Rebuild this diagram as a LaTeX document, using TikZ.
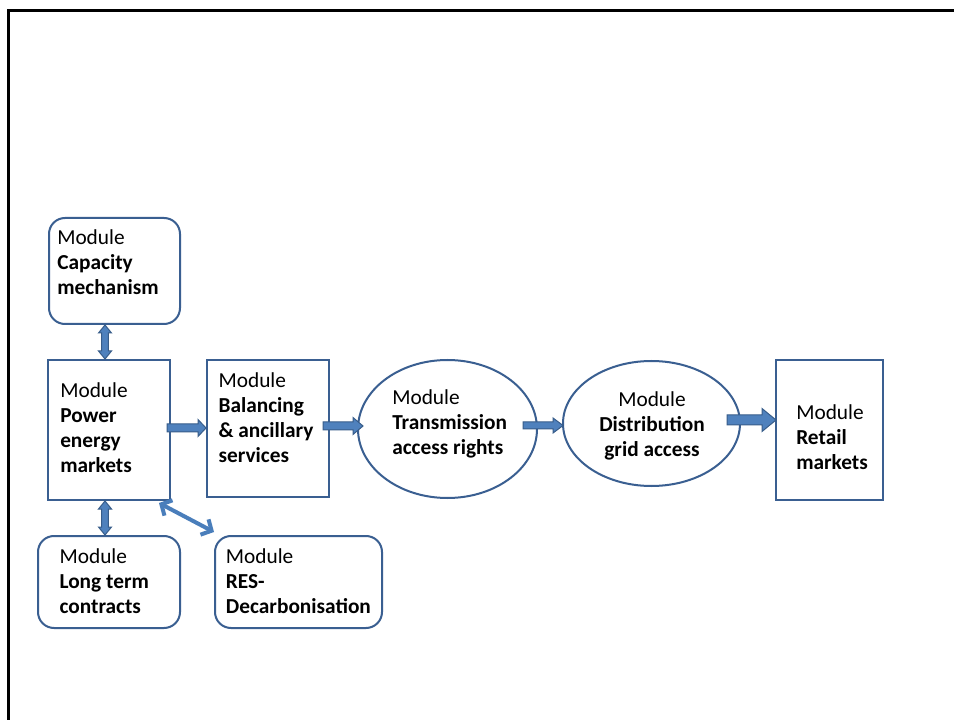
\documentclass[tikz,border=0pt]{standalone}
\usepackage{fontspec}
\setmainfont{Carlito}
\usetikzlibrary{shapes.geometric,arrows.meta,calc}

\definecolor{boxblue}{HTML}{3A5F91}
\definecolor{arrfill}{HTML}{4F81BD}
\definecolor{arrline}{HTML}{385D8A}
\definecolor{linkblue}{HTML}{4A7EBB}

\newcommand\modfont{\fontsize{16pt}{18.75pt}\selectfont}

% horizontal block arrow: from node, to node, y, start shift, end shift,
% half shaft, half head, head length (all in px)
\newcommand\hblock[8]{%
  \path[blockarrow] let \p1=([xshift=#4*0.75pt]#1.east),
                        \p2=([xshift=#5*0.75pt]#2.west),
                        \p3=(0,#3) in
    (\x1,\y3+#6*0.75pt) -- (\x2-#8*0.75pt,\y3+#6*0.75pt)
    -- (\x2-#8*0.75pt,\y3+#7*0.75pt) -- (\x2,\y3)
    -- (\x2-#8*0.75pt,\y3-#7*0.75pt) -- (\x2-#8*0.75pt,\y3-#6*0.75pt)
    -- (\x1,\y3-#6*0.75pt) -- cycle;}

% vertical double block arrow: upper node, lower node, x, half shaft,
% half head, head length (all in px)
\newcommand\vblock[6]{%
  \path[blockarrow] let \p1=(#1.south), \p2=(#2.north), \p3=(#3,0) in
    (\x3,\y1) -- (\x3+#5*0.75pt,\y1-#6*0.75pt) -- (\x3+#4*0.75pt,\y1-#6*0.75pt)
    -- (\x3+#4*0.75pt,\y2+#6*0.75pt) -- (\x3+#5*0.75pt,\y2+#6*0.75pt)
    -- (\x3,\y2) -- (\x3-#5*0.75pt,\y2+#6*0.75pt) -- (\x3-#4*0.75pt,\y2+#6*0.75pt)
    -- (\x3-#4*0.75pt,\y1-#6*0.75pt) -- (\x3-#5*0.75pt,\y1-#6*0.75pt) -- cycle;}

\tikzset{
  modbox/.style={draw=boxblue, line width=1.5pt, fill=white, inner sep=0pt},
  roundbox/.style={modbox, rounded corners=12pt},
  modell/.style={modbox, ellipse},
  txt/.style={inner sep=0pt, font=\modfont, anchor=base west},
  ctxt/.style={inner sep=0pt, font=\modfont, anchor=base},
  blockarrow/.style={fill=arrfill, draw=arrline, line width=0.75pt, line join=miter},
  linkarrow/.style={draw=linkblue, line width=3pt,
    {Straight Barb[length=6pt,width=13pt]}-{Straight Barb[length=6pt,width=13pt]}},
  frameline/.style={draw=black, line width=2pt}
}

\begin{document}
\begin{tikzpicture}[x=0.75pt,y=-0.75pt]
\useasboundingbox (0,0) rectangle (954,720);
\fill[white] (0,0) rectangle (954,720);

% page frame
\draw[frameline] (8.5,740) -- (8.5,10.5) -- (970,10.5);

% module boxes
\node[roundbox, minimum width=98.25pt, minimum height=79.5pt] (cap) at (114.5,271) {};
\node[modbox, minimum width=91.5pt, minimum height=105pt] (pw) at (109,430) {};
\node[modbox, minimum width=91.5pt, minimum height=102.75pt] (bal) at (268,428.5) {};
\node[modell, minimum width=134.25pt, minimum height=103.5pt] (tr) at (447.5,429) {};
\node[modell, minimum width=132.75pt, minimum height=93.75pt] (dist) at (651.5,423.5) {};
\node[modbox, minimum width=80.25pt, minimum height=105pt] (ret) at (829.5,430) {};
\node[roundbox, minimum width=106.5pt, minimum height=69pt] (ltc) at (109,582) {};
\node[roundbox, minimum width=125.25pt, minimum height=69pt] (res) at (298.5,582) {};

% module texts
\node[txt] (capt) at (57,245)
  {\begin{tabular}[t]{@{}l@{}}Module\\\textbf{Capacity}\\\textbf{mechanism}\end{tabular}};
\node[txt] (pwt) at (60,398)
  {\begin{tabular}[t]{@{}l@{}}Module\\\textbf{Power}\\\textbf{energy}\\\textbf{markets}\end{tabular}};
\node[txt] (balt) at (218.3,388)
  {\begin{tabular}[t]{@{}l@{}}Module\\\textbf{Balancing}\\\textbf{\& ancillary}\\\textbf{services}\end{tabular}};
\node[txt] (trt) at (392,404.5)
  {\begin{tabular}[t]{@{}l@{}}Module\\\textbf{Transmission}\\\textbf{access rights}\end{tabular}};
\node[ctxt] (distt) at (652,406.5)
  {\begin{tabular}[t]{@{}c@{}}Module\\\textbf{Distribution}\\\textbf{grid access}\end{tabular}};
\node[txt] (rett) at (796,419.5)
  {\begin{tabular}[t]{@{}l@{}}Module\\\textbf{Retail}\\\textbf{markets}\end{tabular}};
\node[txt] (ltct) at (59.3,563)
  {\begin{tabular}[t]{@{}l@{}}Module\\\textbf{Long term}\\\textbf{contracts}\end{tabular}};
\node[txt] (rest) at (225.7,563)
  {\begin{tabular}[t]{@{}l@{}}Module\\\textbf{RES-}\\\textbf{Decarbonisation}\end{tabular}};

% flow along the chain
\hblock{pw}{bal}{428}{-4}{0}{4}{8.5}{8}
\hblock{bal}{tr}{426}{-7}{6}{4}{8.5}{10}
\hblock{tr}{dist}{425.5}{-15}{1}{3.5}{7.5}{10}
\hblock{dist}{ret}{420}{-14}{1}{5}{11.5}{14}

% links to the side modules
\vblock{cap}{pw}{105}{3.3}{6.5}{8}
\vblock{pw}{ltc}{105}{3.3}{6.5}{8}
\draw[linkarrow] ([shift={(-12,2)}]pw.south east) -- ([shift={(0,-3)}]res.north west);
\end{tikzpicture}
\end{document}
